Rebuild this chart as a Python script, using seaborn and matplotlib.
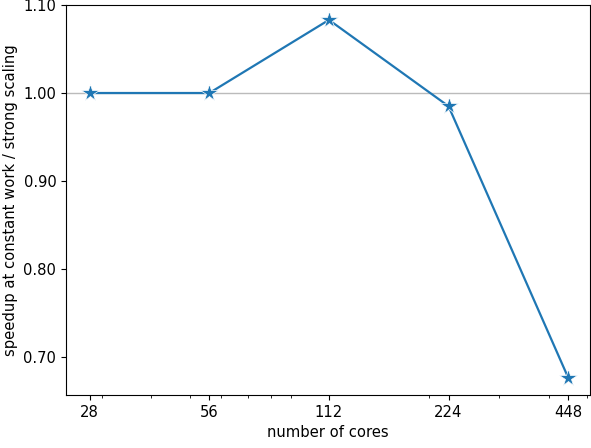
import matplotlib
matplotlib.use("Agg")
import matplotlib.pyplot as plt
import matplotlib.ticker as mticker
import pandas as pd
import seaborn as sns

cores = [28, 56, 112, 224, 448]
speedup = [1.000, 1.000, 1.083, 0.985, 0.677]
tick_labels = ["28", "56", "112", "224", "448"]

df = pd.DataFrame({"cores": cores, "speedup": speedup})

plt.rcParams["font.size"] = 10.6

fig = plt.figure(figsize=(5.91, 4.48), dpi=100)
ax = fig.add_axes([0.1117, 0.118, 0.8863, 0.871])

ax.axhline(1.0, color="#bbbbbb", linewidth=1.0, zorder=1)
sns.lineplot(data=df, x="cores", y="speedup", ax=ax, marker="*",
             markersize=13, markeredgewidth=0.5, color="#1f77b4",
             linewidth=1.6, zorder=3)

ax.set_xscale("log")
ax.set_xlim(24.4, 508)
ax.set_ylim(0.657, 1.10)
ax.set_xticks(cores)
ax.set_xticklabels(tick_labels)
ax.xaxis.set_minor_formatter(mticker.NullFormatter())
ax.set_yticks([0.70, 0.80, 0.90, 1.00, 1.10])
ax.yaxis.set_major_formatter(mticker.FormatStrFormatter("%.2f"))

ax.set_xlabel("number of cores")
ax.set_ylabel("speedup at constant work / strong scaling")

fig.savefig("out.png", dpi=100)
